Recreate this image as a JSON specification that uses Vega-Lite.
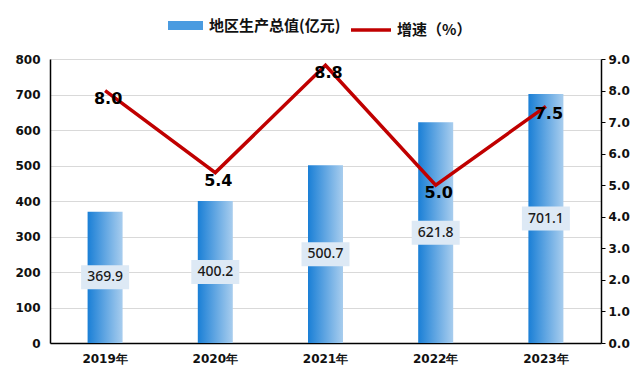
{
  "$schema": "https://vega.github.io/schema/vega-lite/v6.json",
  "width": 551,
  "height": 284,
  "autosize": {"type": "none"},
  "padding": {"left": 50, "top": 59, "right": 39, "bottom": 43},
  "background": "white",
  "data": {
    "values": [
      {"year": "2019年", "gdp": 369.9, "growth": 8.0, "s1": "地区生产总值(亿元)", "s2": "增速（%）"},
      {"year": "2020年", "gdp": 400.2, "growth": 5.4, "s1": "地区生产总值(亿元)", "s2": "增速（%）"},
      {"year": "2021年", "gdp": 500.7, "growth": 8.8, "s1": "地区生产总值(亿元)", "s2": "增速（%）"},
      {"year": "2022年", "gdp": 621.8, "growth": 5.0, "s1": "地区生产总值(亿元)", "s2": "增速（%）"},
      {"year": "2023年", "gdp": 701.1, "growth": 7.5, "s1": "地区生产总值(亿元)", "s2": "增速（%）"}
    ]
  },
  "encoding": {
    "x": {
      "field": "year", "type": "nominal", "sort": null,
      "scale": {"paddingInner": 0, "paddingOuter": 0},
      "axis": {
        "title": null, "labelAngle": 0, "ticks": false, "domainColor": "#000000", "domainWidth": 1.5,
        "labelFont": "DejaVu Sans", "labelFontWeight": "bold", "labelFontSize": 12, "labelColor": "#111111",
        "labelPadding": 10
      }
    }
  },
  "layer": [
    {
      "mark": {"type": "bar", "width": 35, "color": {"gradient": "linear", "x1": 0, "y1": 0, "x2": 1, "y2": 0, "stops": [{"offset": 0, "color": "#1a7fd6"}, {"offset": 1, "color": "#a8cdee"}]}},
      "encoding": {
        "y": {
          "field": "gdp", "type": "quantitative",
          "scale": {"domain": [0, 800], "nice": false},
          "axis": {
            "title": null, "values": [0,100,200,300,400,500,600,700,800],
            "ticks": false, "domainColor": "#000000", "domainWidth": 1.5,
            "gridColor": "#d9d9d9", "gridWidth": 1,
            "labelFont": "DejaVu Sans", "labelFontWeight": "bold", "labelFontSize": 12, "labelColor": "#111111",
            "labelPadding": 10
          }
        }
      }
    },
    {
      "mark": {"type": "bar", "width": 35, "opacity": 0},
      "encoding": {
        "y": {"field": "gdp", "type": "quantitative", "scale": {"domain": [0, 800], "nice": false}, "axis": null},
        "fill": {
          "field": "s1", "type": "nominal",
          "scale": {"range": ["#4a9be0"]},
          "legend": {
            "orient": "none", "legendX": 118, "legendY": -51, "title": null,
            "symbolType": "M-1,-0.26 L1,-0.26 L1,0.26 L-1,0.26 Z", "symbolSize": 1225,
            "symbolStrokeWidth": 0, "labelFont": "Noto Sans CJK SC", "labelFontWeight": "bold",
            "labelFontSize": 15, "labelColor": "#111111", "labelOffset": 6, "symbolOpacity": 1
          }
        }
      }
    },
    {
      "mark": {"type": "point", "filled": true, "shape": "M-1,-0.5 L1,-0.5 L1,0.5 L-1,0.5 Z", "size": 2304, "color": "#dde9f5", "opacity": 1},
      "encoding": {
        "y": {"field": "gdp", "type": "quantitative", "scale": {"domain": [0, 1600], "nice": false}, "axis": null}
      }
    },
    {
      "mark": {"type": "text", "font": "Noto Sans", "fontSize": 14, "fontWeight": 500, "color": "#1a1a1a"},
      "encoding": {
        "y": {"field": "gdp", "type": "quantitative", "scale": {"domain": [0, 1600], "nice": false}, "axis": null},
        "text": {"field": "gdp", "type": "quantitative", "format": ".1f"}
      }
    },
    {
      "mark": {"type": "line", "strokeWidth": 3.5},
      "encoding": {
        "y": {
          "field": "growth", "type": "quantitative",
          "scale": {"domain": [0, 9], "nice": false},
          "axis": {
            "orient": "right", "title": null, "values": [0,1,2,3,4,5,6,7,8,9], "format": ".1f",
            "grid": false, "ticks": true, "tickSize": 4, "tickColor": "#000000", "domainColor": "#000000", "domainWidth": 1.5,
            "labelFont": "DejaVu Sans", "labelFontWeight": "bold", "labelFontSize": 12, "labelColor": "#111111",
            "labelPadding": 3
          }
        },
        "stroke": {
          "field": "s2", "type": "nominal",
          "scale": {"range": ["#c00000"]},
          "legend": {
            "orient": "none", "legendX": 299, "legendY": -51, "title": null,
            "symbolType": "stroke", "symbolSize": 1600, "symbolStrokeWidth": 3.5,
            "labelFont": "Noto Sans CJK SC", "labelFontWeight": "bold",
            "labelFontSize": 15, "labelColor": "#111111", "labelOffset": 4
          }
        }
      }
    },
    {
      "mark": {"type": "text", "font": "DejaVu Sans", "fontWeight": "bold", "fontSize": 16, "color": "#000000", "dx": 3, "dy": 8},
      "encoding": {
        "y": {"field": "growth", "type": "quantitative", "scale": {"domain": [0, 9], "nice": false}, "axis": null},
        "text": {"field": "growth", "type": "quantitative", "format": ".1f"}
      }
    }
  ],
  "resolve": {"scale": {"y": "independent", "fill": "independent", "stroke": "independent"}},
  "config": {"view": {"stroke": null}}
}
